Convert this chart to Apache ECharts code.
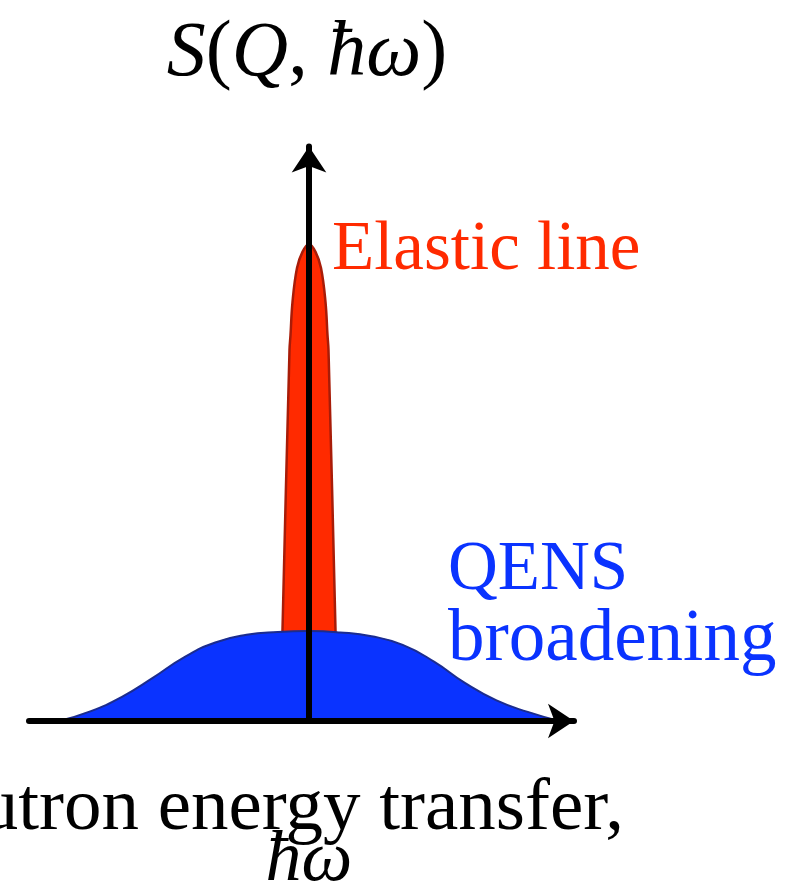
<!DOCTYPE html>
<html style='height: 100%'>
<head>
    <meta charset='utf-8'>
</head>
<body style='height: 100%; margin: 0; background: #fff'>
    <div id='container' style='width: 793px; height: 888px'></div>
    <script type='text/javascript' src='https://cdn.jsdelivr.net/npm/echarts@6/dist/echarts.min.js'></script>
    <script type="text/javascript">

var dom = document.getElementById("container");
var myChart = echarts.init(dom);

// energy transfer in arbitrary units, intensity in arbitrary units
var elasticX = [-1.14, -1.06, -0.78, -0.74, -0.66, -0.48, -0.26, 0, 0.26, 0.48, 0.66, 0.74, 0.78, 1.06, 1.14];
var elasticY = [0, 0.19, 0.775, 0.806, 0.875, 0.946, 0.98, 0.996, 0.98, 0.946, 0.875, 0.806, 0.775, 0.19, 0];

var qensX = [-10, -8.75, -7.5, -6.25, -5, -3.75, -2.5, -1.25, 0, 1.25, 2.5, 3.75, 5, 6.25, 7.5, 8.75, 10];
var qensY = [0, 0.020, 0.050, 0.090, 0.133, 0.164, 0.180, 0.186, 0.188, 0.185, 0.177, 0.159, 0.124, 0.079, 0.043, 0.019, 0];

function pairs(xs, ys) {
    var out = [];
    for (let i = 0; i < xs.length; i++) {
        out.push([xs[i], ys[i]]);
    }
    return out;
}

var serif = '"Liberation Serif", "DejaVu Serif", serif';

option = {
    backgroundColor: '#fff',
    animation: false,
    grid: { left: 29, right: 219, top: 146.5, bottom: 167 },
    xAxis: {
        type: 'value', min: -11.2, max: 10.6, z: 5,
        axisLine: { onZero: true, symbol: ['none', 'arrow'], symbolSize: [26, 26],
            lineStyle: { color: '#000', width: 6 } },
        axisTick: { show: false }, axisLabel: { show: false }, splitLine: { show: false }
    },
    yAxis: {
        type: 'value', min: 0, max: 1.2, z: 5,
        axisLine: { show: true, onZero: true, symbol: ['none', 'arrow'], symbolSize: [26, 26],
            lineStyle: { color: '#000', width: 6 } },
        axisTick: { show: false }, axisLabel: { show: false }, splitLine: { show: false }
    },
    series: [{
        name: 'Elastic line', type: 'line', smooth: 0.4, showSymbol: false, z: 2,
        data: pairs(elasticX, elasticY),
        lineStyle: { color: '#a81c08', width: 2.5 },
        areaStyle: { color: '#ff2a00', opacity: 1 }
    }, {
        name: 'QENS broadening', type: 'line', smooth: 0.5, showSymbol: false, z: 3,
        data: pairs(qensX, qensY),
        lineStyle: { color: '#1b2c8f', width: 2 },
        areaStyle: { color: '#0a33ff', opacity: 1 }
    }],
    graphic: [{
        type: 'text', x: 307, y: 54, z: 10,
        style: {
            text: '{i|S}({i|Q}, {i|ħω})', textAlign: 'center', textVerticalAlign: 'middle',
            font: '78px ' + serif, fill: '#000',
            rich: { i: { fontStyle: 'italic', fontFamily: serif, fontSize: 78 } }
        }
    }, {
        type: 'text', x: 332, y: 251, z: 10,
        style: { text: 'Elastic line', textAlign: 'left', textVerticalAlign: 'middle',
            font: '69px ' + serif, fill: '#ff2a00' }
    }, {
        type: 'text', x: 448, y: 571, z: 10,
        style: { text: 'QENS', textAlign: 'left', textVerticalAlign: 'middle',
            font: '69px ' + serif, fill: '#0a33ff' }
    }, {
        type: 'text', x: 448, y: 641, z: 10,
        style: { text: 'broadening', textAlign: 'left', textVerticalAlign: 'middle',
            font: '73px ' + serif, fill: '#0a33ff' }
    }, {
        type: 'text', x: 624, y: 809, z: 10,
        style: { text: 'Neutron energy transfer,', textAlign: 'right', textVerticalAlign: 'middle',
            font: '75px ' + serif, fill: '#000' }
    }, {
        type: 'text', x: 309, y: 861, z: 10,
        style: { text: 'ħω', textAlign: 'center', textVerticalAlign: 'middle',
            font: 'italic 72px ' + serif, fill: '#000' }
    }]
};

if (option && typeof option === "object") {
    myChart.setOption(option, true);
}
    </script>
</body>
</html>
